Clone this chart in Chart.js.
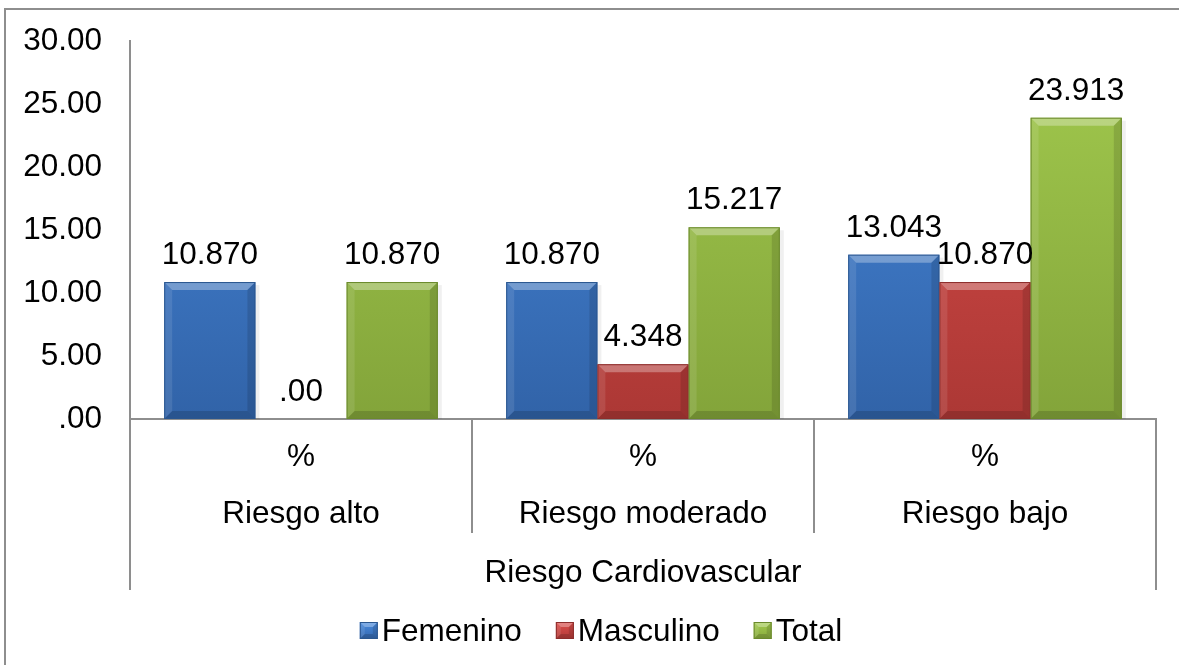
<!DOCTYPE html>
<html>
<head>
<meta charset="utf-8">
<script src="https://cdn.jsdelivr.net/npm/chart.js@4/dist/chart.umd.min.js"></script>
<style>
  html, body { margin: 0; padding: 0; background: #fff; }
  #wrap { width: 1179px; height: 665px; }
</style>
</head>
<body>
<div id="wrap"><canvas id="chart"></canvas></div>
<script>
const groupTitle = 'Riesgo Cardiovascular'
const categories = ['Riesgo alto', 'Riesgo moderado', 'Riesgo bajo']
const unitLabel = '%'
const seriesNames = ['Femenino', 'Masculino', 'Total']
const femenino = [10.870, 10.870, 13.043]
const masculino = [0.000, 4.348, 10.870]
const total = [10.870, 15.217, 23.913]
const yTicks = [0, 5, 10, 15, 20, 25, 30]

const FONT = '"Liberation Sans", Arial, sans-serif'
const FONT_SIZE = 31.5
const AXIS_GRAY = '#8e8e8e'
// outer chart frame; its right and bottom edges fall outside the canvas
const FRAME = { left: 5, top: 9, width: 1192, height: 700 }

// top colour, bottom colour, edge colour for each series
const palette = {
  Femenino: ['#4889dc', '#3163a8', '#2a568f'],
  Masculino: ['#da4d4a', '#ac3835', '#8c2d2b'],
  Total: ['#a2ca4e', '#83a43a', '#6a892c'],
}

function formatValue(v, digits) {
  if (v === 0) return '.00'
  return v.toFixed(digits)
}

function gradientFill(name) {
  return (ctx) => {
    const area = ctx.chart.chartArea
    const c = palette[name]
    if (!area) return c[0]
    const g = ctx.chart.ctx.createLinearGradient(0, area.top, 0, area.bottom)
    g.addColorStop(0, c[0])
    g.addColorStop(1, c[1])
    return g
  }
}

function drawBevel(ctx, l, t, w, h, d, edge) {
  const r = l + w
  const b = t + h
  ctx.save()
  ctx.fillStyle = 'rgba(255,255,255,0.30)'
  ctx.beginPath()
  ctx.moveTo(l, t); ctx.lineTo(r, t); ctx.lineTo(r - d, t + d); ctx.lineTo(l + d, t + d); ctx.closePath()
  ctx.fill()
  ctx.fillStyle = 'rgba(255,255,255,0.10)'
  ctx.beginPath()
  ctx.moveTo(l, t); ctx.lineTo(l + d, t + d); ctx.lineTo(l + d, b - d); ctx.lineTo(l, b); ctx.closePath()
  ctx.fill()
  ctx.fillStyle = 'rgba(0,0,0,0.12)'
  ctx.beginPath()
  ctx.moveTo(r, t); ctx.lineTo(r - d, t + d); ctx.lineTo(r - d, b - d); ctx.lineTo(r, b); ctx.closePath()
  ctx.fill()
  ctx.fillStyle = 'rgba(0,0,0,0.15)'
  ctx.beginPath()
  ctx.moveTo(l, b); ctx.lineTo(l + d, b - d); ctx.lineTo(r - d, b - d); ctx.lineTo(r, b); ctx.closePath()
  ctx.fill()
  ctx.strokeStyle = edge
  ctx.lineWidth = 1
  ctx.strokeRect(l + 0.5, t + 0.5, w - 1, h - 1)
  ctx.restore()
}

// bevelled look on every bar, plus a soft shadow to the right
const bevelPlugin = {
  id: 'bevel',
  beforeDatasetsDraw(chart) {
    const ctx = chart.ctx
    ctx.save()
    ctx.fillStyle = 'rgba(0,0,0,0.06)'
    chart.data.datasets.forEach((ds, i) => {
      chart.getDatasetMeta(i).data.forEach((bar) => {
        const h = bar.base - bar.y
        if (h < 1) return
        ctx.fillRect(bar.x + bar.width / 2, bar.y + 3, 4, h - 3)
      })
    })
    ctx.restore()
  },
  afterDatasetsDraw(chart) {
    chart.data.datasets.forEach((ds, i) => {
      chart.getDatasetMeta(i).data.forEach((bar) => {
        const h = bar.base - bar.y
        if (h < 1) return
        drawBevel(chart.ctx, bar.x - bar.width / 2, bar.y, bar.width, h, Math.min(8, h / 2), palette[ds.label][2])
      })
    })
  },
}

// value labels above the bars
const valueLabels = {
  id: 'valueLabels',
  afterDatasetsDraw(chart) {
    const ctx = chart.ctx
    ctx.save()
    ctx.font = FONT_SIZE + 'px ' + FONT
    ctx.fillStyle = '#000'
    ctx.textAlign = 'center'
    ctx.textBaseline = 'alphabetic'
    chart.data.datasets.forEach((ds, i) => {
      chart.getDatasetMeta(i).data.forEach((bar, j) => {
        ctx.fillText(formatValue(ds.data[j], 3), bar.x, bar.y - 18)
      })
    })
    ctx.restore()
  },
}

// two-level category axis with separators, the legend and the outer frame
const categoryAxis = {
  id: 'categoryAxis',
  beforeDraw(chart) {
    const ctx = chart.ctx
    ctx.save()
    ctx.strokeStyle = AXIS_GRAY
    ctx.lineWidth = 2
    ctx.strokeRect(FRAME.left, FRAME.top, FRAME.width, FRAME.height)
    ctx.restore()
  },
  afterDraw(chart) {
    const ctx = chart.ctx
    const x = chart.scales.x
    const y0 = x.top
    const n = categories.length
    const step = x.width / n
    ctx.save()
    ctx.strokeStyle = AXIS_GRAY
    ctx.lineWidth = 2
    for (let i = 0; i <= n; i++) {
      const px = Math.round(x.left + i * step)
      const outer = i === 0 || i === n
      ctx.beginPath()
      ctx.moveTo(px, y0)
      ctx.lineTo(px, y0 + (outer ? 171 : 114))
      ctx.stroke()
    }
    ctx.font = FONT_SIZE + 'px ' + FONT
    ctx.fillStyle = '#000'
    ctx.textAlign = 'center'
    ctx.textBaseline = 'middle'
    categories.forEach((c, i) => {
      const cx = x.getPixelForValue(i)
      ctx.fillText(unitLabel, cx, y0 + 38)
      ctx.fillText(c, cx, y0 + 95)
    })
    ctx.fillText(groupTitle, (x.left + x.right) / 2, y0 + 154)

    // legend row
    const box = 18
    const gapText = 4
    const gapItem = 34
    const widths = seriesNames.map((s) => box + gapText + ctx.measureText(s).width)
    const totalW = widths.reduce((a, b) => a + b, 0) + gapItem * (seriesNames.length - 1)
    let lx = FRAME.left + (FRAME.width - totalW) / 2
    const ly = 632
    ctx.textAlign = 'left'
    seriesNames.forEach((s, i) => {
      const c = palette[s]
      const g = ctx.createLinearGradient(0, ly - box / 2, 0, ly + box / 2)
      g.addColorStop(0, c[0])
      g.addColorStop(1, c[1])
      ctx.fillStyle = g
      ctx.fillRect(lx, ly - box / 2 - 1, box, box - 1)
      drawBevel(ctx, lx, ly - box / 2 - 1, box, box - 1, 5, c[2])
      ctx.fillStyle = '#000'
      ctx.fillText(s, lx + box + gapText, ly)
      lx += widths[i] + gapItem
    })
    ctx.restore()
  },
}

new Chart(document.getElementById('chart'), {
  type: 'bar',
  data: {
    labels: categories,
    datasets: [
      { label: seriesNames[0], data: femenino, backgroundColor: gradientFill(seriesNames[0]) },
      { label: seriesNames[1], data: masculino, backgroundColor: gradientFill(seriesNames[1]) },
      { label: seriesNames[2], data: total, backgroundColor: gradientFill(seriesNames[2]) },
    ],
  },
  options: {
    responsive: true,
    maintainAspectRatio: false,
    animation: false,
    layout: { padding: { left: 0, top: 41, right: 23, bottom: 0 } },
    datasets: { bar: { categoryPercentage: 0.8, barPercentage: 1 } },
    plugins: {
      tooltip: { enabled: false },
      legend: { display: false },
    },
    scales: {
      x: {
        grid: { display: false },
        border: { color: AXIS_GRAY, width: 2 },
        ticks: { display: false },
        afterFit: (scale) => { scale.height = 246 },
      },
      y: {
        min: 0,
        max: 30,
        afterBuildTicks: (scale) => { scale.ticks = yTicks.map((v) => ({ value: v })) },
        grid: { display: false },
        border: { color: AXIS_GRAY, width: 2 },
        ticks: {
          font: { family: FONT, size: FONT_SIZE },
          color: '#000',
          padding: 20,
          callback: (v) => formatValue(v, 2),
        },
        afterFit: (scale) => { scale.width = 130 },
      },
    },
  },
  plugins: [bevelPlugin, valueLabels, categoryAxis],
})
</script>
</body>
</html>
